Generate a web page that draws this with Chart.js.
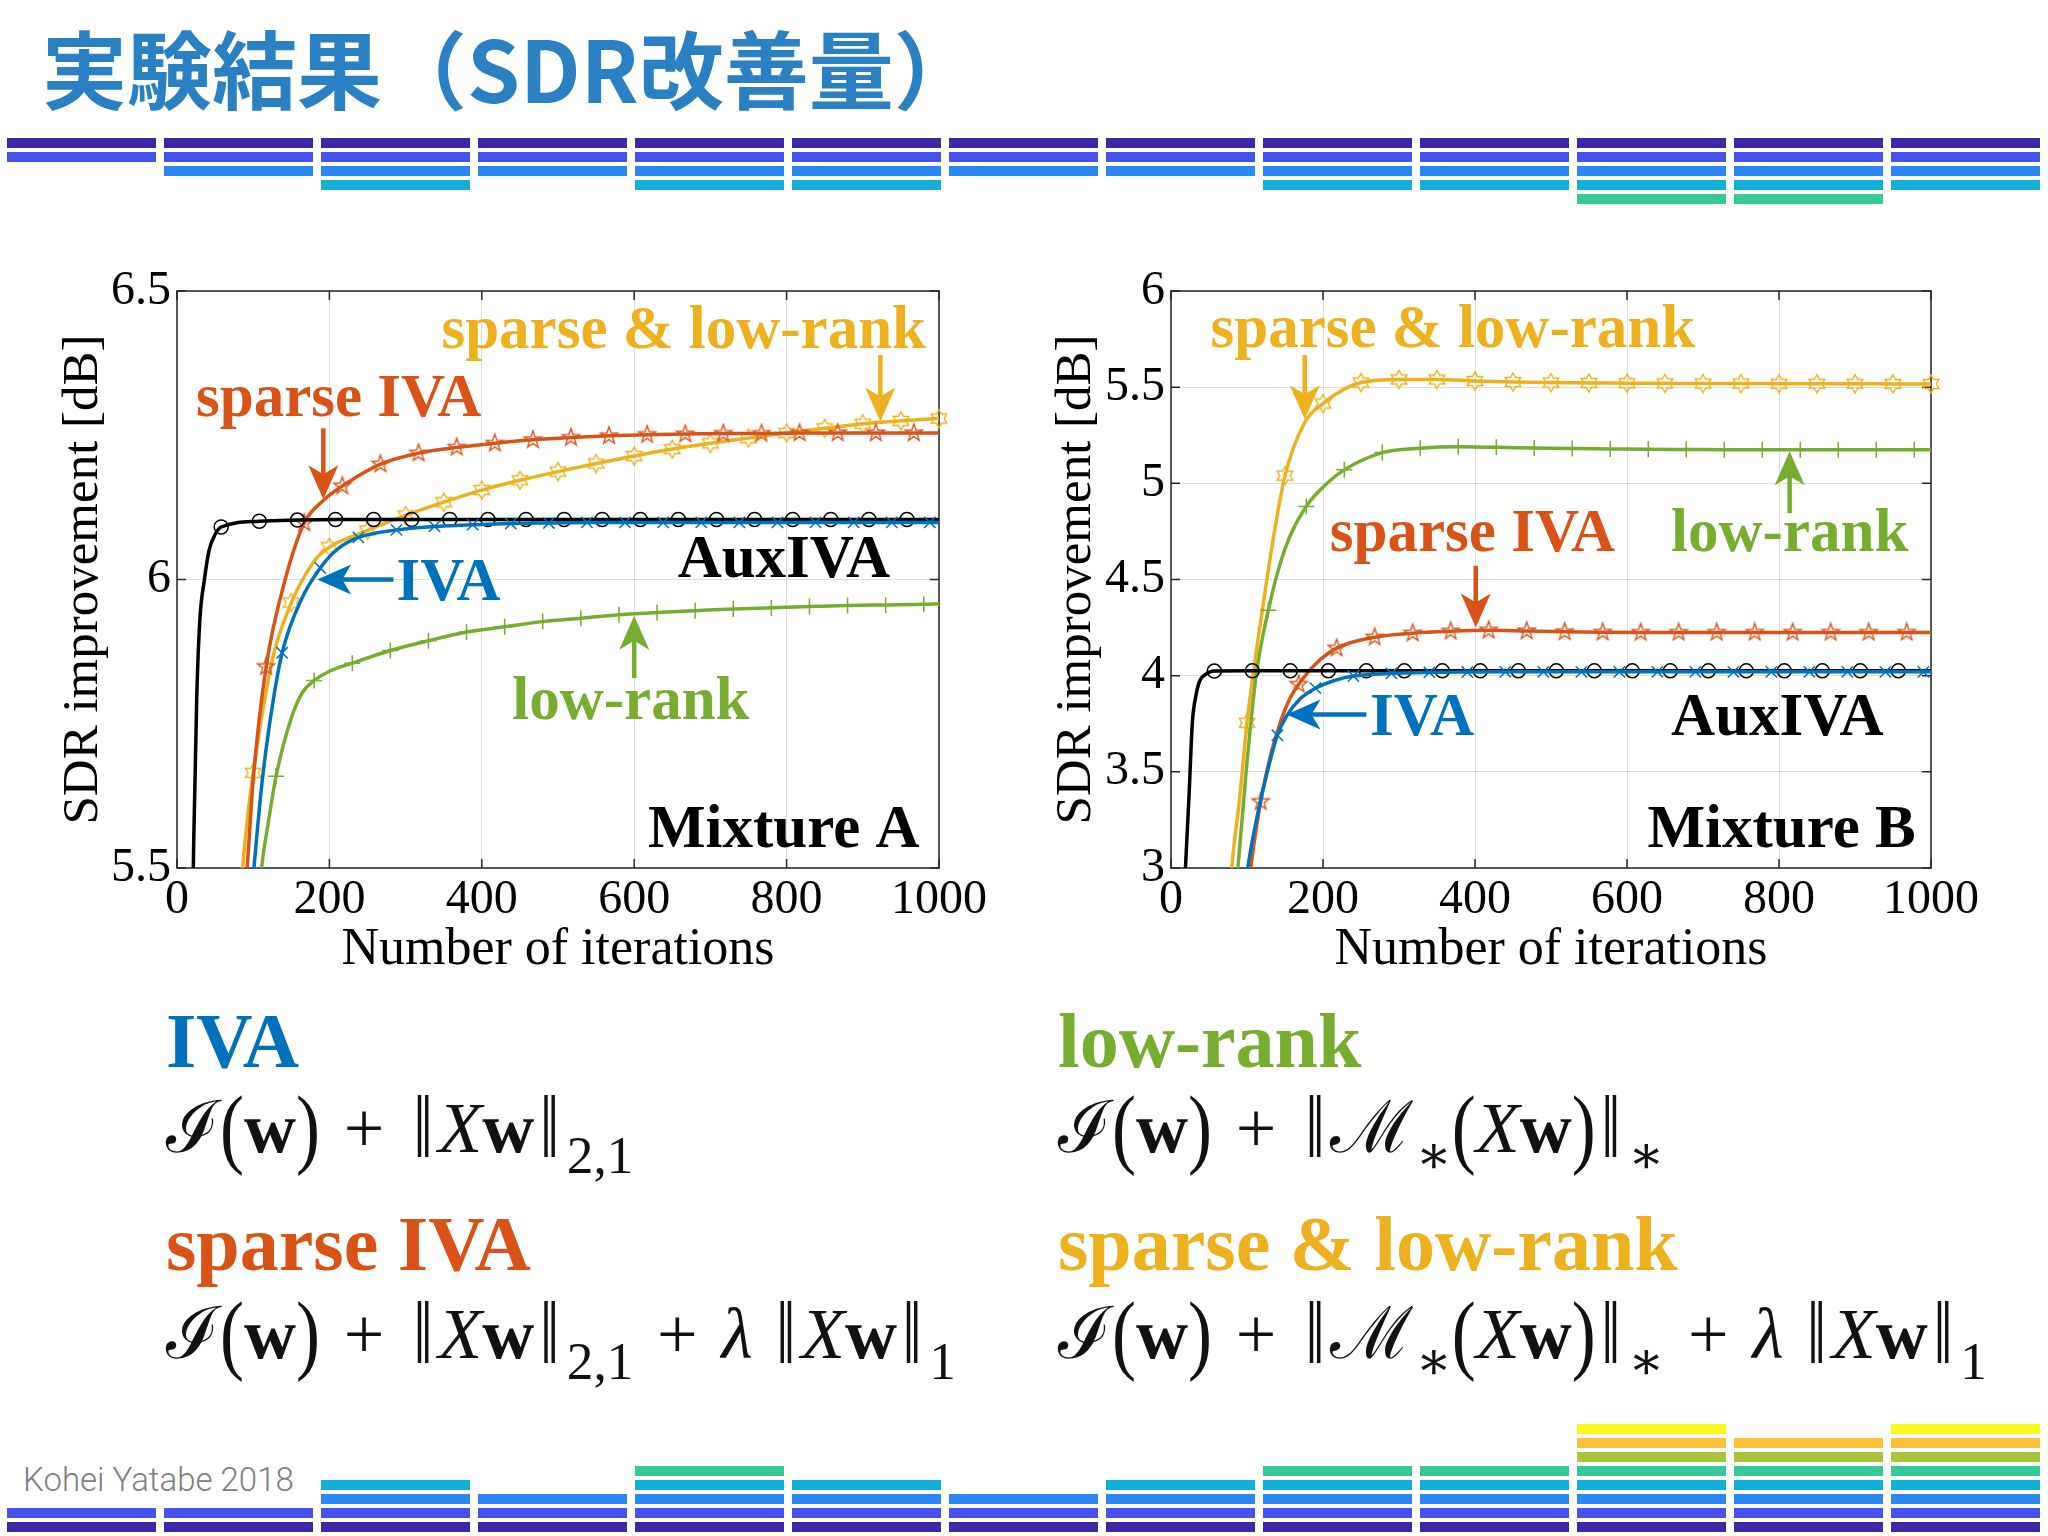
<!DOCTYPE html>
<html>
<head>
<meta charset="utf-8">
<script src="https://cdn.jsdelivr.net/npm/chart.js@4.4.1/dist/chart.umd.min.js"></script>
<style>
  html, body { margin: 0; padding: 0; background: #fff; }
  body { width: 2048px; height: 1536px; position: relative; overflow: hidden; }
  .title { position: absolute; left: 42px; top: 23px; font: bold 85px "Noto Sans CJK JP", sans-serif; line-height: 85px; color: #2b7fc3; white-space: nowrap; }
  canvas { position: absolute; }
  .h { position: absolute; font: bold 78px "Liberation Serif", serif; line-height: 78px; white-space: nowrap; }
  .f { position: absolute; font-family: "Liberation Serif", "DejaVu Serif", serif; font-size: 72px; line-height: 72px; color: #111; white-space: nowrap; }
  .f sub { font-size: 0.74em; vertical-align: -0.4em; line-height: 0; margin-left: 0.04em; }
  .f .b { display: inline-block; transform: scale(1, 1.22); }
  .f .n { margin: 0 0.07em; }
  .f .op { margin: 0 0.33em; }
  .credit { position: absolute; left: 23px; top: 1463px; font: 300 33px Roboto, sans-serif; line-height: 33px; color: #808080; }
  .bar { position: absolute; width: 149px; height: 10px; }
</style>
</head>
<body>
<div class="title">実験結果（SDR改善量）</div>
<div id="deco"></div>
<canvas id="chartA" width="946" height="732" style="left:53px;top:250px"></canvas>
<canvas id="chartB" width="945" height="732" style="left:1046px;top:250px"></canvas>

<div class="h" style="left:166px;top:1002px;color:#0072BD">IVA</div>
<div class="f" style="left:166px;top:1092px">ℐ<span class="b">(</span><b>w</b><span class="b">)</span><span class="op">+</span><span class="b n">‖</span><i>X</i><b>w</b><span class="b n">‖</span><sub>2,1</sub></div>
<div class="h" style="left:166px;top:1205px;color:#D95319">sparse IVA</div>
<div class="f" style="left:166px;top:1298px">ℐ<span class="b">(</span><b>w</b><span class="b">)</span><span class="op">+</span><span class="b n">‖</span><i>X</i><b>w</b><span class="b n">‖</span><sub>2,1</sub><span class="op">+</span><i>λ</i> <span class="b n">‖</span><i>X</i><b>w</b><span class="b n">‖</span><sub>1</sub></div>

<div class="h" style="left:1058px;top:1002px;color:#77AC30">low-rank</div>
<div class="f" style="left:1058px;top:1092px">ℐ<span class="b">(</span><b>w</b><span class="b">)</span><span class="op">+</span><span class="b n">‖</span>ℳ<sub>∗</sub><span class="b">(</span><i>X</i><b>w</b><span class="b">)</span><span class="b n">‖</span><sub>∗</sub></div>
<div class="h" style="left:1058px;top:1205px;color:#EDB120">sparse &amp; low-rank</div>
<div class="f" style="left:1058px;top:1298px">ℐ<span class="b">(</span><b>w</b><span class="b">)</span><span class="op">+</span><span class="b n">‖</span>ℳ<sub>∗</sub><span class="b">(</span><i>X</i><b>w</b><span class="b">)</span><span class="b n">‖</span><sub>∗</sub><span class="op">+</span><i>λ</i> <span class="b n">‖</span><i>X</i><b>w</b><span class="b n">‖</span><sub>1</sub></div>

<div class="credit">Kohei Yatabe 2018</div>

<script>
// axes
const xTicks = [0, 200, 400, 600, 800, 1000];
const yTicksA = [5.5, 6, 6.5];
const yTicksB = [3, 3.5, 4, 4.5, 5, 5.5, 6];

// [iteration, SDR improvement dB]
// Mixture A
const ivaA = [[95,5.4],[101,5.5],[112,5.653],[125,5.78],[138,5.873],[163,5.965],[188,6.02],[210,6.052],[238,6.073],[288,6.086],[338,6.092],[388,6.095],[438,6.097],[488,6.098],[538,6.099],[588,6.099],[638,6.099],[688,6.099],[738,6.099],[788,6.099],[838,6.099],[888,6.099],[938,6.099],[988,6.099],[1000,6.099]];
const auxA = [[10,4.6],[18,5.2],[22,5.55],[26,5.8],[30,5.93],[36,6.0],[42,6.05],[50,6.078],[58,6.091],[108,6.101],[158,6.103],[208,6.104],[258,6.104],[308,6.104],[358,6.104],[408,6.104],[458,6.104],[508,6.104],[558,6.104],[608,6.104],[658,6.104],[708,6.104],[758,6.104],[808,6.104],[858,6.104],[908,6.104],[958,6.104],[1000,6.104]];
const sparseA = [[85,5.4],[92,5.5],[100,5.653],[117,5.849],[142,6.0],[167,6.098],[192,6.137],[217,6.162],[267,6.2],[317,6.219],[367,6.229],[417,6.236],[467,6.242],[517,6.246],[567,6.249],[617,6.251],[667,6.252],[717,6.253],[767,6.253],[817,6.254],[867,6.254],[917,6.254],[967,6.254],[1000,6.254]];
const lowA = [[105,5.4],[111,5.5],[120,5.58],[130,5.659],[150,5.76],[165,5.805],[180,5.825],[200,5.841],[230,5.855],[280,5.877],[330,5.894],[380,5.909],[430,5.918],[480,5.927],[530,5.933],[580,5.939],[630,5.943],[680,5.946],[730,5.949],[780,5.951],[830,5.953],[880,5.955],[930,5.956],[980,5.957],[1000,5.958]];
const bothA = [[80,5.4],[86,5.5],[92,5.58],[100,5.665],[125,5.86],[150,5.96],[165,6.0],[185,6.04],[200,6.056],[250,6.085],[300,6.111],[350,6.134],[400,6.155],[450,6.172],[500,6.187],[550,6.201],[600,6.214],[650,6.226],[700,6.236],[750,6.245],[800,6.254],[850,6.262],[900,6.27],[950,6.275],[1000,6.279]];

// Mixture B
const ivaB = [[95,2.8],[101,3.0],[115,3.3],[128,3.52],[140,3.69],[152,3.79],[170,3.88],[190,3.935],[215,3.975],[240,3.998],[290,4.012],[340,4.017],[390,4.019],[440,4.02],[490,4.02],[540,4.02],[590,4.02],[640,4.02],[690,4.02],[740,4.02],[790,4.02],[840,4.02],[890,4.02],[940,4.02],[990,4.02],[1000,4.02]];
const auxB = [[12,2.6],[19,3.0],[24,3.4],[28,3.75],[33,3.9],[38,3.975],[45,4.005],[57,4.024],[107,4.025],[157,4.025],[207,4.025],[257,4.025],[307,4.025],[357,4.025],[407,4.025],[457,4.025],[507,4.025],[557,4.025],[607,4.025],[657,4.025],[707,4.025],[757,4.025],[807,4.025],[857,4.025],[907,4.025],[957,4.025],[1000,4.025]];
const sparseB = [[98,2.7],[105,3.0],[112,3.2],[118,3.345],[130,3.57],[145,3.77],[155,3.87],[168,3.955],[190,4.06],[218,4.143],[268,4.2],[318,4.221],[368,4.231],[418,4.236],[468,4.232],[518,4.228],[568,4.226],[618,4.225],[668,4.225],[718,4.225],[768,4.225],[818,4.225],[868,4.225],[918,4.225],[968,4.225],[1000,4.225]];
const lowB = [[80,2.6],[88,3.0],[100,3.55],[112,4.0],[128,4.34],[150,4.66],[178,4.88],[200,4.98],[228,5.07],[278,5.16],[328,5.183],[378,5.19],[428,5.187],[478,5.184],[528,5.181],[578,5.179],[628,5.177],[678,5.176],[728,5.175],[778,5.175],[828,5.175],[878,5.174],[928,5.174],[978,5.174],[1000,5.174]];
const bothB = [[74,2.6],[80,3.0],[90,3.35],[100,3.755],[112,4.12],[125,4.47],[137,4.77],[150,5.04],[175,5.31],[200,5.415],[250,5.524],[300,5.54],[350,5.54],[400,5.532],[450,5.527],[500,5.524],[550,5.522],[600,5.521],[650,5.52],[700,5.519],[750,5.519],[800,5.518],[850,5.518],[900,5.518],[950,5.517],[1000,5.517]];

// first iteration carrying a marker (markers every 50 iterations after it)
const markStartA = [138, 58, 117, 130, 100];
const markStartB = [140, 57, 118, 128, 100];

// decoration stacks (number of bars per column)
const topStack = [2, 3, 4, 3, 4, 4, 3, 3, 4, 4, 5, 5, 4];
const bottomStack = [2, 2, 4, 3, 5, 4, 3, 4, 5, 5, 8, 7, 8];
const parula = ['#3e26a8', '#4751f0', '#2c87f6', '#12b0d7', '#38c796', '#a9c43a', '#fdc03a', '#f8f91a'];

const BLU = '#0072BD', ORG = '#D95319', YEL = '#EDB120', GRN = '#77AC30', BLK = '#000000';
const serif = '"Liberation Serif", "Times New Roman", serif';

// decoration bars
const deco = document.getElementById('deco');
function addBar(x, y, c) {
  const d = document.createElement('div');
  d.className = 'bar';
  d.style.left = x + 'px';
  d.style.top = y + 'px';
  d.style.background = c;
  deco.appendChild(d);
}
topStack.forEach((n, k) => { for (let r = 0; r < n; r++) addBar(7 + 157 * k, 138 + 14 * r, parula[r]); });
bottomStack.forEach((n, k) => { for (let r = 0; r < n; r++) addBar(7 + 157 * k, 1522 - 14 * r, parula[r]); });

// star-like markers (pentagram / hexagram outlines)
function starMarker(n, outer, inner, color) {
  const s = Math.ceil(outer * 2 + 4);
  const c = document.createElement('canvas');
  c.width = c.height = s;
  const g = c.getContext('2d');
  g.translate(s / 2, s / 2);
  g.beginPath();
  for (let i = 0; i < 2 * n; i++) {
    const r = i % 2 ? inner : outer;
    const a = -Math.PI / 2 + i * Math.PI / n;
    g.lineTo(r * Math.cos(a), r * Math.sin(a));
  }
  g.closePath();
  g.strokeStyle = color;
  g.lineWidth = 1.4;
  g.stroke();
  return c;
}
const pentagram = starMarker(5, 9, 3.6, ORG);
const hexagram = starMarker(6, 9, 5.2, YEL);

const styles = [
  { color: BLU, pointStyle: 'crossRot', r: 8 },
  { color: BLK, pointStyle: 'circle', r: 7 },
  { color: ORG, pointStyle: pentagram, r: 7 },
  { color: GRN, pointStyle: 'cross', r: 8 },
  { color: YEL, pointStyle: hexagram, r: 7 }
];

function makeSet(data, st, m0) {
  return {
    data: data,
    borderColor: st.color,
    borderWidth: 3.5,
    cubicInterpolationMode: 'monotone',
    fill: false,
    clip: { left: 0, top: 20, right: 20, bottom: 0 },
    pointStyle: st.pointStyle,
    pointBorderColor: st.color,
    pointBackgroundColor: 'rgba(0,0,0,0)',
    pointBorderWidth: 1.5,
    pointRadius: c => {
      const x = c.raw ? c.raw[0] : -1;
      return (x >= m0 && (x - m0) % 50 === 0) ? st.r : 0;
    }
  };
}

// MATLAB-like box with inward ticks
const boxPlugin = {
  id: 'box',
  beforeDatasetsDraw(chart) {
    const { ctx, chartArea: a, scales: { x, y } } = chart;
    ctx.save();
    ctx.strokeStyle = '#262626';
    ctx.lineWidth = 1.5;
    ctx.strokeRect(a.left, a.top, a.width, a.height);
    ctx.beginPath();
    x.ticks.forEach(t => {
      const px = x.getPixelForValue(t.value);
      ctx.moveTo(px, a.bottom); ctx.lineTo(px, a.bottom - 9);
      ctx.moveTo(px, a.top); ctx.lineTo(px, a.top + 9);
    });
    y.ticks.forEach(t => {
      const py = y.getPixelForValue(t.value);
      ctx.moveTo(a.left, py); ctx.lineTo(a.left + 9, py);
      ctx.moveTo(a.right, py); ctx.lineTo(a.right - 9, py);
    });
    ctx.stroke();
    ctx.restore();
  }
};

function drawArrow(ctx, x1, y1, x2, y2, color) {
  const len = Math.hypot(x2 - x1, y2 - y1);
  const ux = (x2 - x1) / len, uy = (y2 - y1) / len;
  const hl = 34, hw = 15;
  const bx = x2 - ux * hl, by = y2 - uy * hl;
  ctx.strokeStyle = color;
  ctx.lineWidth = 4.5;
  ctx.beginPath();
  ctx.moveTo(x1, y1);
  ctx.lineTo(bx + ux * 10, by + uy * 10);
  ctx.stroke();
  ctx.fillStyle = color;
  ctx.beginPath();
  ctx.moveTo(x2, y2);
  ctx.lineTo(bx - uy * hw, by + ux * hw);
  ctx.lineTo(bx + ux * 9, by + uy * 9);
  ctx.lineTo(bx + uy * hw, by - ux * hw);
  ctx.closePath();
  ctx.fill();
}

function notesPlugin(notes, arrows) {
  return {
    id: 'notes',
    afterDatasetsDraw(chart) {
      const { ctx, scales: { x, y } } = chart;
      ctx.save();
      ctx.font = 'bold 61px ' + serif;
      ctx.textAlign = 'left';
      ctx.textBaseline = 'alphabetic';
      notes.forEach(n => {
        ctx.fillStyle = n.color;
        ctx.fillText(n.text, x.getPixelForValue(n.at[0]), y.getPixelForValue(n.at[1]));
      });
      arrows.forEach(a => {
        drawArrow(ctx, x.getPixelForValue(a.from[0]), y.getPixelForValue(a.from[1]),
          x.getPixelForValue(a.to[0]), y.getPixelForValue(a.to[1]), a.color);
      });
      ctx.restore();
    }
  };
}

const notesA = [
  { text: 'sparse & low-rank', color: YEL, at: [347, 6.401] },
  { text: 'sparse IVA', color: ORG, at: [25, 6.284] },
  { text: 'IVA', color: BLU, at: [288, 5.964] },
  { text: 'AuxIVA', color: BLK, at: [657, 6.004] },
  { text: 'low-rank', color: GRN, at: [440, 5.758] },
  { text: 'Mixture A', color: BLK, at: [618, 5.536] }
];
const arrowsA = [
  { color: ORG, from: [192, 6.262], to: [192, 6.139] },
  { color: YEL, from: [923, 6.389], to: [923, 6.274] },
  { color: BLU, from: [284, 6.0], to: [184, 6.0] },
  { color: GRN, from: [600, 5.829], to: [600, 5.937] }
];
const notesB = [
  { text: 'sparse & low-rank', color: YEL, at: [52, 5.707] },
  { text: 'low-rank', color: GRN, at: [658, 4.65] },
  { text: 'sparse IVA', color: ORG, at: [209, 4.65] },
  { text: 'IVA', color: BLU, at: [262, 3.69] },
  { text: 'AuxIVA', color: BLK, at: [658, 3.69] },
  { text: 'Mixture B', color: BLK, at: [627, 3.107] }
];
const arrowsB = [
  { color: YEL, from: [176, 5.667], to: [176, 5.333] },
  { color: GRN, from: [814, 4.845], to: [814, 5.167] },
  { color: ORG, from: [401, 4.571], to: [401, 4.25] },
  { color: BLU, from: [257, 3.798], to: [152, 3.798] }
];

function makeChart(id, series, marks, yTicks, yWidth, notes, arrows) {
  const tickFont = { family: serif, size: 48 };
  const grid = { color: 'rgba(0,0,0,0.13)', lineWidth: 1, drawTicks: false };
  return new Chart(document.getElementById(id), {
    type: 'line',
    data: { datasets: series.map((d, i) => makeSet(d, styles[i], marks[i])) },
    options: {
      responsive: false,
      animation: false,
      devicePixelRatio: 1,
      events: [],
      layout: { padding: { left: 0, top: 41, right: 60, bottom: 0 } },
      plugins: { legend: { display: false }, tooltip: { enabled: false } },
      scales: {
        x: {
          type: 'linear', min: 0, max: 1000,
          afterBuildTicks: s => { s.ticks = xTicks.map(v => ({ value: v })); },
          afterFit: s => { s.height = 114; },
          grid: grid,
          border: { display: false },
          ticks: { font: tickFont, color: '#000', padding: 4, maxRotation: 0, autoSkip: false, callback: v => String(v) },
          title: { display: true, text: 'Number of iterations', color: '#000', font: { family: serif, size: 52 }, padding: 0 }
        },
        y: {
          type: 'linear', min: yTicks[0], max: yTicks[yTicks.length - 1],
          afterBuildTicks: s => { s.ticks = yTicks.map(v => ({ value: v })); },
          afterFit: s => { s.width = yWidth; },
          grid: grid,
          border: { display: false },
          ticks: { font: tickFont, color: '#000', padding: 6, autoSkip: false, callback: v => String(v) },
          title: { display: true, text: 'SDR improvement [dB]', color: '#000', font: { family: serif, size: 51 }, padding: 0 }
        }
      }
    },
    plugins: [boxPlugin, notesPlugin(notes, arrows)]
  });
}

makeChart('chartA', [ivaA, auxA, sparseA, lowA, bothA], markStartA, yTicksA, 124, notesA, arrowsA);
makeChart('chartB', [ivaB, auxB, sparseB, lowB, bothB], markStartB, yTicksB, 125, notesB, arrowsB);
</script>
</body>
</html>
